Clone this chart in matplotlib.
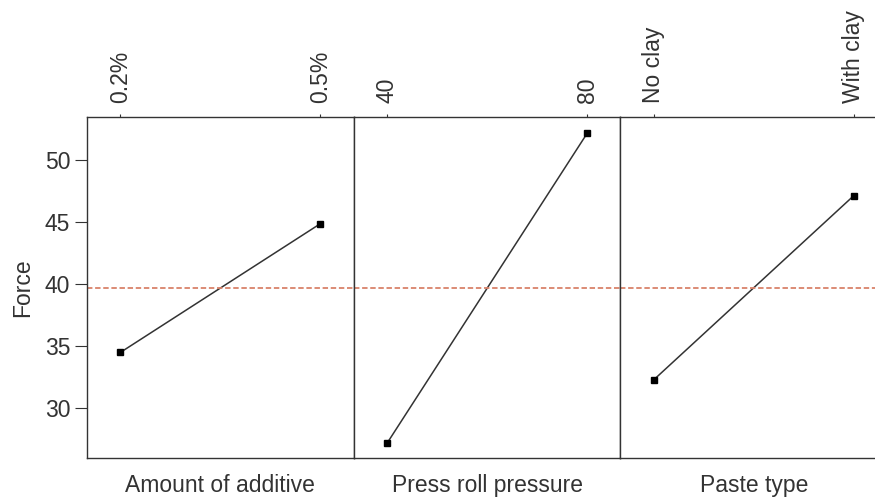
import matplotlib
matplotlib.use('Agg')
import matplotlib.pyplot as plt

plt.rcParams['font.family'] = ['Liberation Sans', 'DejaVu Sans']

factors = ['Amount of additive', 'Press roll pressure', 'Paste type']
levels = [['0.2%', '0.5%'], ['40', '80'], ['No clay', 'With clay']]
means = [[34.5, 44.85], [27.2, 52.1], [32.3, 47.1]]
grand_mean = 39.65
yticks = [30, 35, 40, 45, 50]

ink = '#333333'
fs = 16.5
fig = plt.figure(figsize=(8.75, 4.99), dpi=100)

left = 0.0994
width = 0.3048
bottom = 0.0816
height = 0.6834

for k in range(3):
    ax = fig.add_axes([left + k * width, bottom, width, height])
    ax.plot([0, 1], means[k], color=ink, lw=1.1, marker='s', ms=4,
            mfc='black', mec='black')
    ax.axhline(grand_mean, color='#d9826a', lw=1.3, ls=(0, (3, 1.5)))
    ax.set_xlim(-0.1665, 1.1665)
    ax.set_ylim(26.0, 53.4)
    ax.xaxis.tick_top()
    ax.set_xticks([0, 1])
    ax.set_xticklabels(levels[k], rotation=90, fontsize=fs, color=ink)
    ax.tick_params(axis='x', length=2, color=ink, pad=8)
    ax.set_xlabel(factors[k], fontsize=fs, color=ink, labelpad=11)
    ax.xaxis.set_label_position('bottom')
    for s in ax.spines.values():
        s.set_color(ink)
        s.set_linewidth(1.0)
    if k == 0:
        ax.set_yticks(yticks)
        ax.tick_params(axis='y', labelsize=fs, colors=ink, length=9, pad=3)
        ax.set_ylabel('Force', fontsize=fs, color=ink, labelpad=8)
    else:
        ax.set_yticks([])

fig.savefig('out.png', dpi=100)
